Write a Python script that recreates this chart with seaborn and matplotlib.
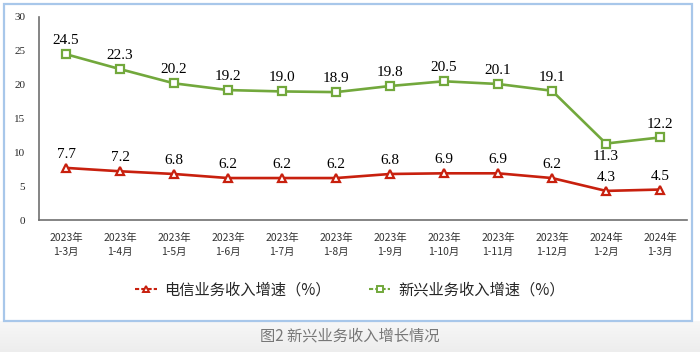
import numpy as np
import pandas as pd
import matplotlib
matplotlib.use('Agg')
from matplotlib import pyplot as plt
from matplotlib.patches import Rectangle
import seaborn as sns

periods = ['2023年\n1-3月', '2023年\n1-4月', '2023年\n1-5月', '2023年\n1-6月',
           '2023年\n1-7月', '2023年\n1-8月', '2023年\n1-9月', '2023年\n1-10月',
           '2023年\n1-11月', '2023年\n1-12月', '2024年\n1-2月', '2024年\n1-3月']
telecom_growth = [7.7, 7.2, 6.8, 6.2, 6.2, 6.2, 6.8, 6.9, 6.9, 6.2, 4.3, 4.5]
emerging_growth = [24.5, 22.3, 20.2, 19.2, 19.0, 18.9, 19.8, 20.5, 20.1, 19.1, 11.3, 12.2]
series_names = ['电信业务收入增速（%）', '新兴业务收入增速（%）']
caption = '图2 新兴业务收入增长情况'

red = '#c8200e'
green = '#72a83c'
cjk = ['Noto Sans CJK SC', 'DejaVu Sans']
serif = ['Liberation Serif', 'DejaVu Serif']

sns.set_style('white')
plt.rcParams['font.family'] = cjk

df = pd.DataFrame({
    'period': periods * 2,
    'value': telecom_growth + emerging_growth,
    'series': [series_names[0]] * len(periods) + [series_names[1]] * len(periods),
})
df['pos'] = list(range(len(periods))) * 2

fig = plt.figure(figsize=(7.0, 3.52), dpi=100)
W, H = 700, 352

# grey gradient strip under the frame
bg = fig.add_axes([0, 0, 1, 1 - 321 / H], zorder=-2)
grad = np.linspace(0.97, 0.93, 50).reshape(-1, 1)
bg.imshow(np.dstack([grad, grad, grad]), aspect='auto', extent=[0, 1, 0, 1])
bg.axis('off')

fig.patches.append(Rectangle((4 / W, 1 - 321 / H), 688 / W, 317 / H, transform=fig.transFigure,
                             facecolor='white', edgecolor='#a8c7ea', lw=1.6, zorder=-1))

ax = fig.add_axes([39 / W, 1 - 220 / H, 648 / W, 203 / H])
ax.set_facecolor('none')

sns.lineplot(data=df, x='pos', y='value', hue='series', style='series',
             palette=[red, green], markers=['^', 's'], dashes=False,
             markersize=5.5, linewidth=1.9, legend=False, ax=ax)
for line in ax.lines:
    line.set_markerfacecolor('white')
    line.set_markeredgecolor(line.get_color())
    line.set_markeredgewidth(1.6)

def label(i, v, dy, va):
    ax.annotate(f'{v:.1f}', (i, v), xytext=(0, dy), textcoords='offset points',
                ha='center', va=va, fontsize=11, family=serif, color='black')

for i, v in enumerate(telecom_growth):
    label(i, v, 5, 'bottom')
for i, v in enumerate(emerging_growth):
    if i == 10:
        label(i, v, -5, 'top')
    else:
        label(i, v, 5, 'bottom')

ax.set_xlim(-0.5, len(periods) - 0.5)
ax.set_ylim(0, 30)
ax.set_yticks(range(0, 31, 5))
ax.set_yticklabels([str(t) for t in range(0, 31, 5)], family=serif, fontsize=8)
ax.set_xticks(range(len(periods)))
ax.set_xticklabels(periods, fontsize=7.5, color='#333333', linespacing=1.6)
ax.set_xticks(np.arange(-0.5, len(periods), 1), minor=True)
ax.tick_params(axis='x', which='major', length=0, pad=9)
ax.tick_params(axis='x', which='minor', length=4, width=1, color='#707070', direction='out')
ax.tick_params(axis='y', length=4, width=1, color='#707070', direction='out', pad=6)
ax.set_xlabel('')
ax.set_ylabel('')
for side in ['top', 'right']:
    ax.spines[side].set_visible(False)
for side in ['left', 'bottom']:
    ax.spines[side].set_color('#707070')
    ax.spines[side].set_linewidth(1.2)

handles = [plt.Line2D([], [], color=red, lw=1.5, ls=(0, (2, 1)), marker='^', markersize=5,
                      markerfacecolor='white', markeredgewidth=1.4),
           plt.Line2D([], [], color=green, lw=1.5, ls=(0, (2, 1)), marker='s', markersize=5,
                      markerfacecolor='white', markeredgewidth=1.4)]
fig.legend(handles, series_names, loc='center', bbox_to_anchor=(0.5, 1 - 290 / H),
           ncol=2, frameon=False, fontsize=11, handlelength=1.4, columnspacing=2.5,
           handletextpad=0.5)

fig.text(0.5, 1 - 336 / H, caption, ha='center', va='center', fontsize=11, color='#777777')

fig.savefig('out.png', dpi=100)
